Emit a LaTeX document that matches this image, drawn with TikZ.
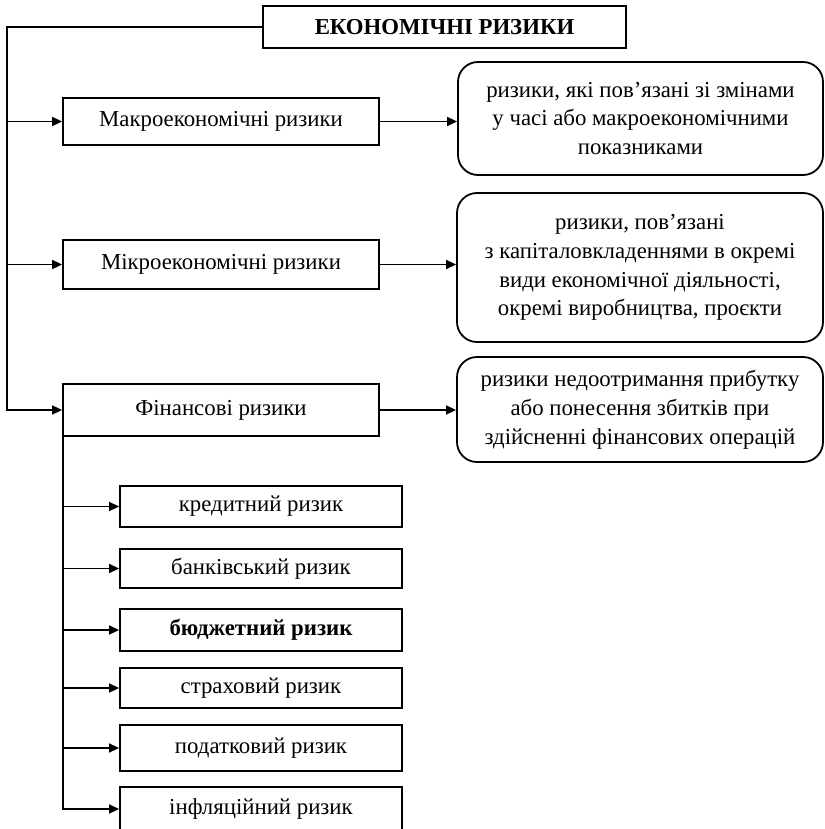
\documentclass[tikz,border=0pt]{standalone}
\usepackage{fontspec}
\setmainfont{Liberation Serif}
\usetikzlibrary{arrows.meta}
\begin{document}
\begin{tikzpicture}[x=1pt,y=-1pt,
  every node/.style={font=\fontsize{22.8}{28.8}\selectfont},
  box/.style={draw, line width=1.8pt, inner sep=0pt, align=center},
  rbox/.style={box, rounded corners=20pt},
  conn/.style={line width=1.5pt, -{Triangle[length=10pt,width=9pt]}},
  plain/.style={line width=1.5pt}]
\useasboundingbox (0,0) rectangle (824,829);
% top
\node[box, minimum width=363pt, minimum height=42pt, font=\fontsize{22.8}{28.8}\selectfont\bfseries] (title) at (444.5,27) {ЕКОНОМІЧНІ РИЗИКИ};
% level 1
\node[box, minimum width=316pt, minimum height=47pt] (macro) at (221,121.5) {Макроекономічні ризики};
\node[box, minimum width=316pt, minimum height=49pt] (micro) at (221,264.5) {Мікроекономічні ризики};
\node[box, minimum width=316pt, minimum height=52pt] (fin) at (221,410) {Фінансові ризики};
% descriptions
\node[rbox, minimum width=365pt, minimum height=113pt] (macrod) at (640.5,118.5) {ризики, які пов’язані зі змінами\\у часі або макроекономічними\\показниками};
\node[rbox, minimum width=366pt, minimum height=149pt] (microd) at (640,267.5) {ризики, пов’язані\\з капіталовкладеннями в окремі\\види економічної діяльності,\\окремі виробництва, проєкти};
\node[rbox, minimum width=366pt, minimum height=105pt] (find) at (640,409.5) {ризики недоотримання прибутку\\або понесення збитків при\\здійсненні фінансових операцій};
% sub boxes
\node[box, minimum width=282pt, minimum height=41pt] (kred) at (261,506.5) {кредитний ризик};
\node[box, minimum width=282pt, minimum height=39pt] (bank) at (261,568.5) {банківський ризик};
\node[box, minimum width=282pt, minimum height=42pt, font=\fontsize{22.8}{28.8}\selectfont\bfseries] (budg) at (261,630) {бюджетний ризик};
\node[box, minimum width=282pt, minimum height=40pt] (strah) at (261,688) {страховий ризик};
\node[box, minimum width=282pt, minimum height=46pt] (podat) at (261,748) {податковий ризик};
\node[box, minimum width=282pt, minimum height=44pt] (infl) at (261,809) {інфляційний ризик};
% connectors left trunk
\coordinate (tl) at (7,27);
\draw[conn] (title.west) -- (tl) |- (fin.west);
\draw[conn] (tl |- macro.west) -- (macro.west);
\draw[conn] (tl |- micro.west) -- (micro.west);
% to descriptions
\draw[conn] (macro.east) -- (macro.east -| macrod.west);
\draw[conn] (micro.east) -- (micro.east -| microd.west);
\draw[conn] (fin.east) -- (fin.east -| find.west);
% financial sub trunk
\coordinate (fs) at ([xshift=1pt]fin.south west);
\draw[conn] (fs) |- (infl.west);
\draw[conn] (fs |- kred.west) -- (kred.west);
\draw[conn] (fs |- bank.west) -- (bank.west);
\draw[conn] (fs |- budg.west) -- (budg.west);
\draw[conn] (fs |- strah.west) -- (strah.west);
\draw[conn] (fs |- podat.west) -- (podat.west);
\end{tikzpicture}
\end{document}
